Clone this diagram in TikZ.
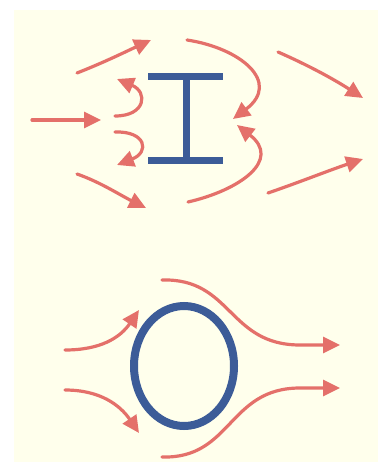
\documentclass[tikz,border=0pt]{standalone}
\usepackage{xcolor}
\usepackage{tikz}
\usetikzlibrary{arrows.meta}
\definecolor{paper}{RGB}{255,255,236}
\definecolor{flowred}{RGB}{228,112,106}
\definecolor{beamblue}{RGB}{60,92,152}
\tikzset{
  flowline/.style={
    draw=flowred, line width=3.2pt, line cap=round,
    -{Triangle[length=17pt, width=16pt]}
  },
  beamline/.style={
    draw=beamblue, line width=7pt
  },
  tubeline/.style={
    draw=beamblue, line width=8pt
  },
}
\begin{document}
\begin{tikzpicture}[x=1pt, y=-1pt]
  \useasboundingbox (0,0) rectangle (378,462);
  \fill[white] (0,0) rectangle (378,462);
  \fill[paper] (14,10) rectangle (378,462);
  % I-beam
  \draw[beamline] (148,77) -- (223,77);
  \draw[beamline] (148,161) -- (223,161);
  \draw[beamline] (186,77) -- (186,161);
  % Flow round the I-beam
  \draw[flowline] (77,73) .. controls (105,62) and (125,52) .. (151,40);
  \draw[flowline] (32,120) -- (101,120);
  \draw[flowline] (115,116) .. controls (146,116) and (148,92) .. (117,79);
  \draw[flowline] (115,132) .. controls (146,131) and (150,152) .. (117,165);
  \draw[flowline] (77,174) .. controls (100,182) and (120,195) .. (146,208);
  \draw[flowline] (187,40) .. controls (240,48) and (282,82) .. (233,119);
  \draw[flowline] (188,202) .. controls (240,190) and (282,160) .. (237,125);
  \draw[flowline] (278,52) .. controls (310,66) and (335,80) .. (363,98);
  \draw[flowline] (268,193) .. controls (300,182) and (330,170) .. (363,159);
  % Tube
  \draw[tubeline] (184,366) ellipse [x radius=50pt, y radius=60pt];
  % Flow round the tube
  \draw[flowline] (65,350) .. controls (100,350) and (120,338) .. (139,310);
  \draw[flowline] (65,390) .. controls (100,390) and (120,405) .. (139,433);
  \draw[flowline] (162,280) .. controls (232,278) and (228,345) .. (300,345) -- (340,345);
  \draw[flowline] (162,457) .. controls (232,459) and (228,388) .. (300,388) -- (340,388);
\end{tikzpicture}
\end{document}
